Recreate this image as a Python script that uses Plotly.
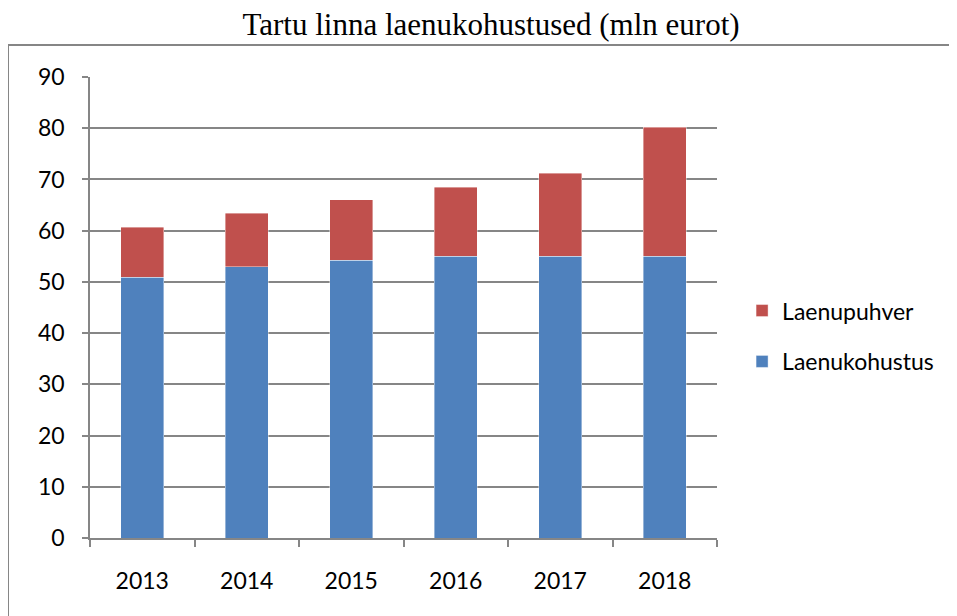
import plotly.graph_objects as go

years = ['2013', '2014', '2015', '2016', '2017', '2018']
laenukohustus = [50.9, 53.0, 54.2, 55.0, 55.0, 55.0]
laenupuhver = [9.8, 10.4, 11.8, 13.5, 16.2, 25.2]

BLUE = '#4F81BD'
RED = '#C0504D'
GRID = '#868686'
FONT = 'Lato, Carlito, sans-serif'

fig = go.Figure()
fig.add_trace(go.Bar(
    x=years, y=laenukohustus, name='Laenukohustus',
    marker=dict(color=BLUE, line=dict(color='rgba(255,255,255,0.5)', width=0.8)),
    legendgroup='a', legendrank=2
))
fig.add_trace(go.Bar(
    x=years, y=laenupuhver, name='Laenupuhver',
    marker=dict(color=RED, line=dict(color='rgba(255,255,255,0.5)', width=0.8)),
    legendgroup='b', legendrank=1
))

# outer chart border
fig.add_shape(
    type='rect', xref='paper', yref='paper',
    x0=-0.1308, x1=1.3748, y0=-0.25, y1=1.0694,
    line=dict(color=GRID, width=2), layer='below'
)

# page body has an 8px margin, so the figure is sized/offset for it
fig.update_layout(
    width=949, height=608,
    margin=dict(l=82, r=240, t=69, b=78),
    barmode='stack',
    bargap=0.59,
    paper_bgcolor='white',
    plot_bgcolor='white',
    title=dict(
        text='Tartu linna laenukohustused (mln eurot)',
        x=0.509, xanchor='center', y=0.974, yanchor='middle', yref='container',
        font=dict(family='Liberation Serif, Times New Roman, serif', size=31, color='black')
    ),
    font=dict(family=FONT, size=23, color='black'),
    legend=dict(
        x=1.040, xanchor='left', y=0.438, yanchor='middle',
        traceorder='grouped', tracegroupgap=18,
        font=dict(family=FONT, size=23, color='black'),
        itemwidth=30
    ),
    xaxis=dict(
        type='category', tickson='boundaries',
        ticks='outside', ticklen=7, tickcolor=GRID, tickwidth=1.5,
        showline=True, linecolor=GRID, linewidth=1.5,
        showgrid=False, ticklabelstandoff=22,
        tickfont=dict(family=FONT, size=23, color='black')
    ),
    yaxis=dict(
        range=[0, 90], dtick=10,
        ticks='outside', ticklen=6, tickcolor=GRID, tickwidth=1.5,
        showline=True, linecolor=GRID, linewidth=1.5,
        showgrid=True, gridcolor=GRID, gridwidth=1.5,
        zeroline=False, ticklabelstandoff=13,
        tickfont=dict(family=FONT, size=23, color='black')
    )
)

fig.write_html('out.html')
